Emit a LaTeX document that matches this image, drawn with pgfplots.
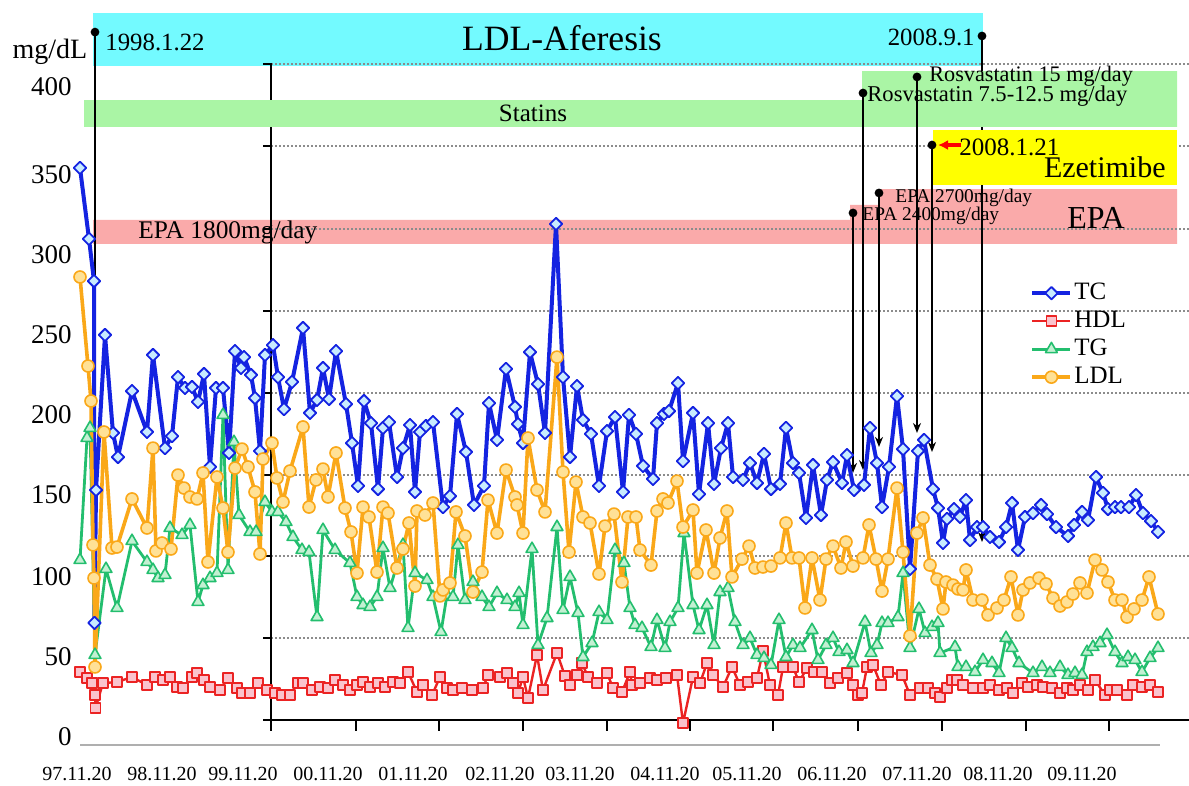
\documentclass[border=0pt]{standalone}
\usepackage{pgfplots}
\pgfplotsset{compat=1.18}
\usepackage{fontspec}
\setmainfont{Liberation Serif}
\usetikzlibrary{arrows.meta}
\definecolor{tcblue}{RGB}{20,35,225}
\definecolor{tcfill}{RGB}{200,235,255}
\definecolor{hdlred}{RGB}{235,35,35}
\definecolor{hdlfill}{RGB}{250,195,205}
\definecolor{tggreen}{RGB}{35,190,110}
\definecolor{tgfill}{RGB}{195,240,210}
\definecolor{ldlorange}{RGB}{250,168,25}
\definecolor{ldlfill}{RGB}{255,225,150}
\definecolor{bcyan}{RGB}{115,250,255}
\definecolor{bgreen}{RGB}{170,245,165}
\definecolor{byellow}{RGB}{255,255,0}
\definecolor{bpink}{RGB}{250,170,170}
\definecolor{gridc}{RGB}{140,140,140}
\definecolor{basec}{RGB}{175,175,175}
\newcommand\fs[1]{\fontsize{#1}{#1}\selectfont}
\begin{document}
\begin{tikzpicture}
\begin{axis}[
  width=594.5pt, height=392.5pt, scale only axis,
  xmin=0, xmax=1189, ymin=-29.54, ymax=453.54,
  axis lines=none, clip=false,
  legend style={at={(axis cs:1030,282)}, anchor=north west, draw=none, fill=none,
    inner sep=0pt, font=\fs{12.5}, row sep=0pt,
    nodes={inner sep=1pt, text height=9pt, text depth=3pt}},
  legend cell align=left,
  legend image code/.code={\draw[mark repeat=2,mark phase=2,#1] plot coordinates {(0pt,0pt) (9.5pt,0pt) (19pt,0pt)};},
  every axis plot/.append style={line join=round},
]
% --- bands (background) ---
\fill[bpink] (axis cs:93,303.4) -- (axis cs:93,318.2) -- (axis cs:850,318.2) -- (axis cs:850,327.4) -- (axis cs:878,327.4) -- (axis cs:878,337.2) -- (axis cs:1177,337.2) -- (axis cs:1177,303.4) -- cycle;
\fill[bcyan] (axis cs:93,412.9) rectangle (axis cs:983,445.5);
% --- inner grid and axes ---
\pgfplotsinvokeforeach{60.9,111.4,161.2,211.7,262.2,312.6,363.7,414.2}{
  \draw[gridc, line width=0.6pt, dash pattern=on 1pt off 1pt] (axis cs:271,#1) -- (axis cs:1189,#1);
  \draw[black, line width=1pt] (axis cs:263,#1) -- (axis cs:271,#1);
}
\draw[black, line width=1pt] (axis cs:263,10.5) -- (axis cs:1189,10.5);
\draw[black, line width=1pt] (axis cs:271,414.8) -- (axis cs:271,3.7);
\pgfplotsinvokeforeach{356,439,523,607,690,773,858,942,1026,1109}{
  \draw[black, line width=1pt] (axis cs:#1,10.5) -- (axis cs:#1,3.7);
}
\draw[basec, line width=1.2pt] (axis cs:80,-4.9) -- (axis cs:1160,-4.9);
% 2008.9.1 line (under the other bands)
\draw[black, line width=1pt, -{Stealth[length=5pt,width=4pt]}] (axis cs:982,431.4) -- (axis cs:982,120.0);
\fill[black] (axis cs:982,431.4) circle[radius=2.2pt];
% upper bands
\fill[bgreen] (axis cs:84,375.4) -- (axis cs:84,392.0) -- (axis cs:862,392.0) -- (axis cs:862,409.8) -- (axis cs:1177,409.8) -- (axis cs:1177,375.4) -- cycle;
\fill[byellow] (axis cs:933,339.7) rectangle (axis cs:1177,373.5);
% --- annotation lines ---
\draw[black, line width=1pt, -{Stealth[length=5pt,width=4pt]}] (axis cs:95,433.8) -- (axis cs:95,156.3);
\fill[black] (axis cs:95,433.8) circle[radius=2.2pt];
\draw[black, line width=1pt, -{Stealth[length=5pt,width=4pt]}] (axis cs:917,406.2) -- (axis cs:917,187.1);
\fill[black] (axis cs:917,406.2) circle[radius=2.2pt];
\draw[black, line width=1pt, -{Stealth[length=5pt,width=4pt]}] (axis cs:863,396.3) -- (axis cs:863,164.3);
\fill[black] (axis cs:863,396.3) circle[radius=2.2pt];
\draw[black, line width=1pt, -{Stealth[length=5pt,width=4pt]}] (axis cs:932,364.3) -- (axis cs:932,175.4);
\fill[black] (axis cs:932,364.3) circle[radius=2.2pt];
\draw[black, line width=1pt, -{Stealth[length=5pt,width=4pt]}] (axis cs:879,334.8) -- (axis cs:879,178.5);
\fill[black] (axis cs:879,334.8) circle[radius=2.2pt];
\draw[black, line width=1pt, -{Stealth[length=5pt,width=4pt]}] (axis cs:853,322.5) -- (axis cs:853,162.5);
\fill[black] (axis cs:853,322.5) circle[radius=2.2pt];
\draw[red, line width=1.6pt, -{Latex[length=5pt,width=5pt]}] (axis cs:961,364.3) -- (axis cs:938,364.3);
% --- texts ---
\node[anchor=west, inner sep=0pt, font=\fs{12.4}] at (axis cs:105,427.7) {1998.1.22};
\node[inner sep=0pt, font=\fs{17.8}] at (axis cs:562,430.2) {LDL-Aferesis};
\node[anchor=east, inner sep=0pt, font=\fs{12.4}] at (axis cs:975,430.2) {2008.9.1};
\node[inner sep=0pt, font=\fs{14}] at (axis cs:50,421.5) {mg/dL};
\node[inner sep=0pt, font=\fs{12.5}] at (axis cs:533,384.0) {Statins};
\node[anchor=west, inner sep=0pt, font=\fs{11.1}] at (axis cs:929,406.8) {Rosvastatin 15 mg/day};
\node[anchor=west, inner sep=0pt, font=\fs{11.3}] at (axis cs:867,394.2) {Rosvastatin 7.5-12.5 mg/day};
\node[anchor=west, inner sep=0pt, font=\fs{12.5}] at (axis cs:959,363.1) {2008.1.21};
\node[anchor=east, inner sep=0pt, font=\fs{15}] at (axis cs:1166,350.8) {Ezetimibe};
\node[anchor=west, inner sep=0pt, font=\fs{9.7}] at (axis cs:895,331.6) {EPA 2700mg/day};
\node[anchor=west, inner sep=0pt, font=\fs{9.7}] at (axis cs:862,320.9) {EPA 2400mg/day};
\node[inner sep=0pt, font=\fs{16}] at (axis cs:1096,319.4) {EPA};
\node[anchor=west, inner sep=0pt, font=\fs{12.7}] at (axis cs:138,310.2) {EPA 1800mg/day};
% y labels
\node[anchor=east, inner sep=0pt, font=\fs{13.5}] at (axis cs:72,400.0) {400};
\node[anchor=east, inner sep=0pt, font=\fs{13.5}] at (axis cs:72,345.8) {350};
\node[anchor=east, inner sep=0pt, font=\fs{13.5}] at (axis cs:72,296.6) {300};
\node[anchor=east, inner sep=0pt, font=\fs{13.5}] at (axis cs:72,247.4) {250};
\node[anchor=east, inner sep=0pt, font=\fs{13.5}] at (axis cs:72,198.2) {200};
\node[anchor=east, inner sep=0pt, font=\fs{13.5}] at (axis cs:72,148.9) {150};
\node[anchor=east, inner sep=0pt, font=\fs{13.5}] at (axis cs:72,98.5) {100};
\node[anchor=east, inner sep=0pt, font=\fs{13.5}] at (axis cs:72,49.2) {50};
\node[anchor=east, inner sep=0pt, font=\fs{13.5}] at (axis cs:72,0) {0};
% x labels
\node[anchor=base, inner sep=0pt, font=\fs{10}] at (axis cs:77,-26.5) {97.11.20};
\node[anchor=base, inner sep=0pt, font=\fs{10}] at (axis cs:162,-26.5) {98.11.20};
\node[anchor=base, inner sep=0pt, font=\fs{10}] at (axis cs:243,-26.5) {99.11.20};
\node[anchor=base, inner sep=0pt, font=\fs{10}] at (axis cs:328,-26.5) {00.11.20};
\node[anchor=base, inner sep=0pt, font=\fs{10}] at (axis cs:413,-26.5) {01.11.20};
\node[anchor=base, inner sep=0pt, font=\fs{10}] at (axis cs:500,-26.5) {02.11.20};
\node[anchor=base, inner sep=0pt, font=\fs{10}] at (axis cs:580,-26.5) {03.11.20};
\node[anchor=base, inner sep=0pt, font=\fs{10}] at (axis cs:665,-26.5) {04.11.20};
\node[anchor=base, inner sep=0pt, font=\fs{10}] at (axis cs:747,-26.5) {05.11.20};
\node[anchor=base, inner sep=0pt, font=\fs{10}] at (axis cs:832,-26.5) {06.11.20};
\node[anchor=base, inner sep=0pt, font=\fs{10}] at (axis cs:917,-26.5) {07.11.20};
\node[anchor=base, inner sep=0pt, font=\fs{10}] at (axis cs:998,-26.5) {08.11.20};
\node[anchor=base, inner sep=0pt, font=\fs{10}] at (axis cs:1082,-26.5) {09.11.20};
% --- data ---
\addplot[color=tcblue, line width=2pt, mark=square*, mark size=2.2pt, mark options={fill=tcfill, draw=tcblue, line width=0.9pt, rotate=45, solid}] coordinates {
(80,350.2)(89,306.5)(94,280.6)(94.5,70.2)(96,152.0)(105,247.4)(113,187.1)(118,172.3)(132,212.9)(147,187.7)(153,235.1)(165,177.8)(172,185.2)(178,221.5)(185,214.8)(192,215.4)(198,206.2)(204,223.4)(210,166.2)(216,214.8)(223,214.8)(229,174.8)(235,237.5)(241,227.1)(244,233.8)(251,222.8)(255,208.6)(260,176.0)(265,235.1)(273,241.2)(278,221.5)(284,201.8)(292,218.5)(303,251.7)(310,199.4)(317,207.4)(323,227.1)(329,208.0)(336,237.5)(346,204.9)(352,180.9)(358,154.5)(364,206.8)(371,193.2)(378,152.6)(383,190.2)(389,193.8)(397,160.0)(403,177.8)(410,192.0)(415,150.8)(420,187.7)(426,191.4)(433,193.8)(443,141.5)(450,148.3)(457,198.8)(466,175.4)(474,142.8)(484,154.5)(489,205.5)(497,182.8)(506,226.5)(515,203.1)(518,192.6)(523,180.9)(530,236.9)(538,217.2)(545,187.1)(556,315.7)(563,221.5)(570,172.3)(577,216.0)(583,195.1)(591,186.5)(599,154.5)(607,188.3)(615,196.9)(623,150.8)(629,198.2)(636,186.5)(643,166.8)(653,158.8)(657,193.2)(664,198.8)(669,200.6)(678,217.8)(683,169.8)(693,199.4)(699,149.5)(708,193.2)(714,155.7)(721,177.8)(728,193.2)(733,160.0)(743,158.2)(750,168.6)(757,156.3)(764,174.2)(771,152.6)(780,155.7)(786,190.2)(793,168.6)(799,162.5)(806,134.8)(813,167.4)(821,136.6)(827,158.2)(833,169.2)(842,156.3)(847,173.5)(854,152.0)(864,155.1)(870,190.2)(877,168.6)(882,141.5)(889,166.2)(897,209.8)(903,177.2)(910,103.4)(918,176.0)(924,182.8)(933,152.6)(938,140.9)(943,119.4)(947,134.2)(954,140.3)(960,135.4)(966,145.8)(970,121.2)(977,129.2)(983,129.2)(990,123.1)(999,120.0)(1006,129.2)(1012,144.0)(1018,115.1)(1025,135.4)(1033,137.8)(1041,142.8)(1047,137.2)(1056,129.2)(1068,123.7)(1074,130.5)(1082,138.5)(1088,133.5)(1096,160.0)(1103,150.2)(1108,140.3)(1115,141.5)(1121,141.5)(1129,141.5)(1136,148.9)(1143,137.8)(1151,132.9)(1158,126.2)
};
\addlegendentry{TC}
\addplot[color=hdlred, line width=1.2pt, mark=square*, mark size=2.5pt, mark options={fill=hdlfill, draw=hdlred, line width=0.8pt, solid}] coordinates {
(80,40.0)(87,36.3)(92,33.2)(95,25.8)(95.5,17.8)(103,33.2)(117,33.8)(132,36.9)(147,32.0)(155,36.9)(163,35.1)(170,36.9)(177,30.8)(183,30.2)(192,36.9)(197,39.4)(204,35.1)(210,30.8)(220,28.9)(228,36.3)(237,30.2)(242,27.1)(250,27.1)(258,33.2)(267,28.9)(275,27.1)(282,25.8)(290,25.8)(298,33.2)(303,33.2)(312,28.9)(320,30.8)(328,30.2)(335,35.1)(343,32.0)(350,28.9)(357,32.0)(363,33.8)(370,30.8)(378,33.2)(385,30.8)(393,33.8)(400,33.2)(408,40.0)(417,27.7)(423,32.0)(432,25.8)(440,36.9)(447,30.2)(453,28.9)(462,30.2)(472,28.9)(483,30.2)(488,38.2)(500,36.9)(507,39.4)(513,33.2)(518,27.1)(523,36.9)(528,24.0)(537,50.5)(543,28.9)(557,51.7)(565,37.5)(570,32.0)(577,38.2)(582,45.5)(588,36.9)(597,33.2)(607,39.4)(613,30.2)(622,27.7)(630,40.0)(632,32.0)(640,33.2)(650,36.3)(657,35.1)(666,36.3)(677,38.2)(683,8.6)(693,36.9)(700,33.2)(707,45.5)(713,38.2)(723,30.8)(732,43.1)(740,32.0)(748,33.8)(757,36.3)(763,52.9)(770,32.0)(778,25.8)(783,43.1)(793,43.1)(799,33.8)(807,42.5)(814,40.0)(822,40.0)(830,33.2)(838,36.3)(847,39.4)(853,32.0)(858,25.8)(862,27.1)(867,43.1)(873,44.3)(881,32.0)(888,40.0)(902,38.2)(910,25.8)(920,30.2)(928,30.2)(935,27.1)(940,24.6)(947,30.2)(952,35.1)(957,35.1)(963,32.0)(973,30.2)(983,30.2)(990,32.0)(999,28.9)(1007,30.2)(1013,27.1)(1022,33.2)(1028,30.8)(1037,32.0)(1043,30.8)(1052,30.2)(1060,27.1)(1067,30.2)(1073,28.9)(1080,32.0)(1088,28.9)(1095,35.1)(1105,25.8)(1110,28.9)(1117,28.9)(1127,25.8)(1133,32.0)(1142,30.8)(1150,32.0)(1158,27.7)
};
\addlegendentry{HDL}
\addplot[color=tggreen, line width=1.4pt, mark=triangle*, mark size=3.4pt, mark options={fill=tgfill, draw=tggreen, line width=0.8pt, solid}] coordinates {
(80,108.9)(87,184.0)(90,190.2)(95,50.5)(106,103.4)(117,79.4)(132,120.6)(147,107.7)(153,102.8)(158,97.8)(165,99.7)(170,128.6)(182,124.3)(190,130.5)(198,83.1)(203,93.5)(210,97.8)(217,100.9)(223,198.2)(228,102.8)(234,181.5)(239,136.6)(250,126.2)(256,126.2)(265,144.6)(272,138.5)(278,138.5)(286,132.3)(293,123.1)(302,115.1)(309,113.8)(317,73.8)(323,127.4)(335,115.1)(350,107.1)(357,86.2)(363,81.2)(370,80.0)(377,86.2)(383,116.3)(390,91.7)(403,118.2)(408,67.1)(415,100.9)(427,96.6)(433,86.2)(441,64.6)(447,87.4)(453,86.2)(458,118.2)(465,84.3)(473,95.4)(482,86.2)(489,80.0)(497,88.6)(507,84.3)(515,80.0)(519,88.6)(523,68.9)(532,115.7)(538,56.6)(547,73.2)(557,129.2)(563,78.2)(570,98.5)(578,76.3)(583,49.2)(592,57.8)(599,76.9)(607,72.0)(615,115.1)(624,107.1)(630,79.4)(635,68.9)(642,67.1)(651,55.4)(657,72.0)(665,54.8)(670,70.8)(678,79.4)(684,125.5)(693,81.2)(699,65.8)(707,81.2)(714,56.6)(720,89.2)(728,91.7)(735,70.8)(743,56.6)(750,60.9)(757,50.5)(764,48.6)(771,44.3)(779,72.0)(786,49.2)(793,56.6)(800,54.8)(812,65.8)(818,47.4)(826,56.6)(833,60.9)(839,52.3)(847,53.5)(853,45.5)(865,70.8)(871,51.7)(877,56.6)(882,70.2)(888,70.2)(898,73.8)(903,100.9)(910,54.8)(919,78.8)(925,64.0)(932,67.7)(938,70.2)(940,51.7)(955,55.4)(958,43.1)(966,43.1)(975,40.0)(983,47.4)(992,45.5)(999,39.4)(1006,60.9)(1012,54.8)(1019,45.5)(1033,39.4)(1042,43.1)(1050,39.4)(1060,43.1)(1068,38.2)(1075,39.4)(1082,38.2)(1087,52.3)(1093,55.4)(1100,57.8)(1107,62.8)(1115,52.3)(1122,45.5)(1128,49.2)(1135,47.4)(1142,40.0)(1150,48.6)(1158,54.8)
};
\addlegendentry{TG}
\addplot[color=ldlorange, line width=1.8pt, mark=*, mark size=3pt, mark options={fill=ldlfill, draw=ldlorange, line width=0.8pt, solid}] coordinates {
(80,283.1)(88,228.3)(91,206.8)(93,118.2)(94,97.8)(95,43.1)(104,187.7)(112,116.3)(117,116.9)(132,146.5)(147,128.6)(153,177.8)(156,114.5)(162,119.4)(171,115.7)(178,161.2)(184,153.2)(190,147.7)(197,146.5)(203,162.5)(208,107.7)(217,160.0)(223,140.9)(228,113.8)(235,165.5)(242,177.2)(248,166.2)(255,150.8)(260,112.6)(263,171.1)(272,180.9)(277,159.4)(283,144.6)(290,163.7)(303,190.8)(309,141.5)(316,158.2)(323,164.9)(328,147.7)(336,174.8)(345,140.9)(351,126.2)(357,100.9)(363,141.5)(369,135.4)(377,101.5)(383,141.5)(388,137.8)(397,104.0)(403,115.7)(409,131.7)(415,92.9)(417,139.1)(425,136.6)(433,144.0)(440,86.8)(443,90.5)(450,94.8)(456,138.5)(465,123.7)(473,89.2)(482,101.5)(488,145.8)(497,125.5)(506,164.3)(515,147.7)(517,142.8)(523,125.5)(528,184.0)(537,152.0)(545,138.5)(557,233.8)(563,163.1)(569,113.8)(576,156.9)(583,135.4)(590,131.7)(599,100.3)(605,129.8)(614,137.2)(622,95.4)(628,135.4)(636,135.4)(640,115.1)(651,105.8)(657,139.1)(663,146.5)(668,144.0)(677,157.5)(683,129.2)(693,139.7)(697,100.9)(706,127.4)(714,100.9)(720,122.5)(727,139.1)(732,98.5)(742,109.5)(749,117.5)(755,104.0)(763,104.6)(771,105.2)(780,110.2)(786,131.7)(792,110.2)(799,110.2)(805,79.4)(812,110.2)(820,84.3)(826,109.5)(833,117.5)(841,104.0)(846,120.0)(853,105.2)(863,110.2)(869,130.5)(876,109.5)(882,89.8)(888,109.5)(897,153.2)(903,113.8)(910,62.2)(917,125.5)(923,134.8)(930,105.8)(937,97.2)(943,78.8)(946,95.4)(953,93.5)(958,91.1)(963,90.5)(966,102.8)(973,84.3)(982,84.3)(988,75.1)(997,79.4)(1004,84.3)(1011,98.5)(1018,75.1)(1023,90.5)(1030,94.8)(1039,97.8)(1046,94.2)(1053,85.5)(1060,80.6)(1067,83.1)(1073,88.0)(1080,94.8)(1087,88.6)(1095,108.9)(1102,102.8)(1108,95.4)(1115,84.3)(1122,84.3)(1127,73.8)(1134,78.8)(1142,84.3)(1149,98.5)(1158,75.7)
};
\addlegendentry{LDL}
\end{axis}
\pgfresetboundingbox
\path[use as bounding box] (current axis.south west) rectangle (current axis.north east);
\end{tikzpicture}
\end{document}
